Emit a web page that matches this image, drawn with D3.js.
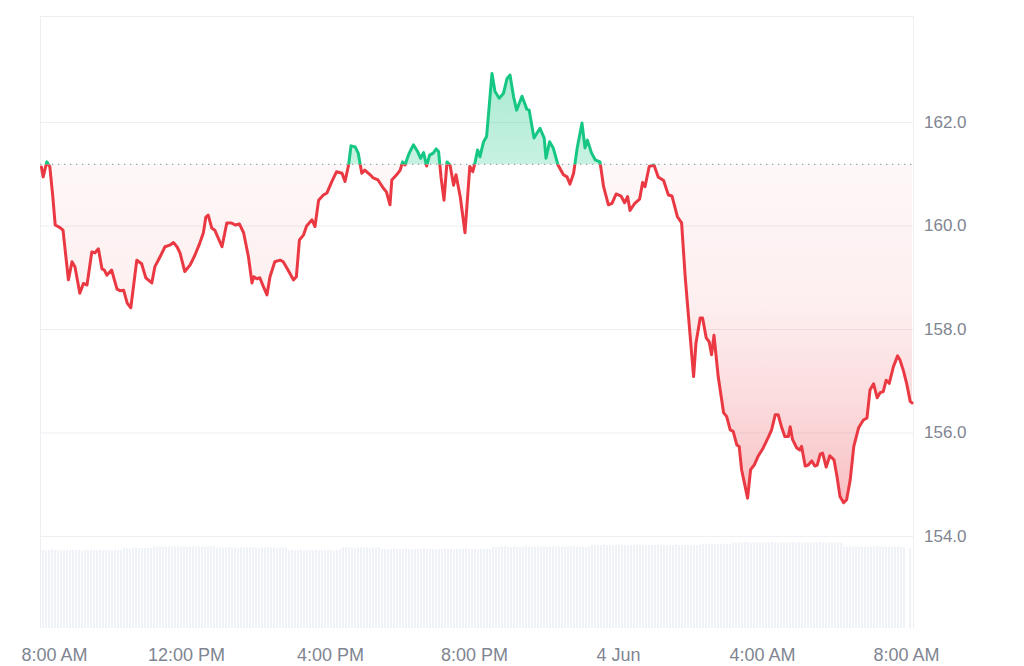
<!DOCTYPE html>
<html>
<head>
<meta charset="utf-8">
<script src="https://cdn.jsdelivr.net/npm/d3@7"></script>
<style>
  html, body { margin: 0; padding: 0; background: #fff; }
  svg { display: block; }
  text { font-family: "Liberation Sans", Arial, sans-serif; }
</style>
</head>
<body>
<svg id="chart" width="1024" height="666"></svg>
<script>
// ---------- DATA ----------
// minutes after 3 Jun 08:00
const priceMinutes = [-1,2,8,13,18,22,30,35,44,50,55,63,69,75,83,88,94,100,104,108,116,125,130,136,142,148,158,166,173,183,188,197,205,213,219,225,230,238,247,255,263,269,273,277,283,288,300,308,316,322,329,336,344,350,353,358,363,369,375,380,388,397,402,410,419,424,429,436,441,450,455,461,469,475,483,491,500,505,511,515,522,527,533,538,547,552,560,569,574,580,583,591,597,601,605,612,619,626,631,636,641,646,652,657,661,665,670,675,680,686,690,697,705,713,718,722,726,730,736,741,750,755,762,769,775,780,786,791,800,808,812,820,830,837,840,846,852,860,869,875,880,886,892,900,905,909,916,922,930,936,944,950,957,965,971,976,980,988,996,1001,1005,1012,1020,1027,1036,1044,1050,1059,1066,1072,1077,1086,1090,1097,1101,1107,1112,1116,1120,1127,1136,1141,1147,1152,1158,1162,1166,1176,1181,1187,1194,1202,1211,1216,1222,1227,1233,1238,1244,1247,1251,1258,1263,1266,1272,1277,1283,1288,1292,1297,1301,1307,1313,1320,1325,1330,1336,1341,1347,1353,1361,1369,1375,1380,1386,1392,1397,1402,1407,1412,1419,1426,1430,1436,1441,1447,1450];
const prices = [161.13,160.94,161.23,161.14,160.56,160.01,159.96,159.91,158.95,159.30,159.20,158.69,158.88,158.85,159.49,159.47,159.55,159.16,159.14,159.04,159.14,158.77,158.74,158.75,158.50,158.41,159.33,159.26,158.99,158.89,159.20,159.40,159.59,159.62,159.67,159.59,159.47,159.11,159.24,159.43,159.66,159.86,160.16,160.20,159.95,159.91,159.59,160.05,160.05,160.01,160.03,159.86,159.40,158.89,159.01,158.97,158.99,158.82,158.66,159.01,159.30,159.33,159.30,159.14,158.95,159.01,159.72,159.82,159.99,160.11,159.98,160.49,160.59,160.63,160.85,161.04,161.01,160.85,161.17,161.54,161.52,161.40,161.01,161.07,160.98,160.92,160.88,160.72,160.65,160.40,160.88,160.98,161.07,161.23,161.17,161.40,161.56,161.43,161.30,161.41,161.15,161.36,161.40,161.48,161.43,160.94,160.49,161.23,161.17,160.78,160.98,160.56,159.86,161.14,161.04,161.23,161.46,161.33,161.62,161.72,162.94,162.59,162.46,162.55,162.84,162.91,162.49,162.23,162.50,162.25,162.23,161.69,161.88,161.69,161.30,161.62,161.50,161.17,160.98,160.94,160.80,161.01,161.50,161.98,161.50,161.65,161.40,161.27,161.23,160.75,160.40,160.43,160.61,160.57,160.44,160.56,160.29,160.43,160.51,160.83,160.75,161.14,161.17,160.94,160.87,160.59,160.57,160.17,160.05,159.01,158.31,157.08,157.73,158.21,158.21,157.83,157.75,157.50,157.88,157.08,156.38,156.31,156.05,156.02,155.76,155.73,155.28,154.73,155.28,155.37,155.55,155.70,155.92,156.05,156.34,156.34,156.09,155.92,155.92,156.11,155.86,155.70,155.66,155.73,155.35,155.37,155.45,155.35,155.37,155.58,155.60,155.33,155.55,155.47,155.15,154.76,154.64,154.70,155.08,155.73,156.09,156.24,156.28,156.82,156.94,156.67,156.77,156.79,157.01,156.95,157.27,157.48,157.40,157.18,156.95,156.60,156.57];
const basePrice = 161.18;

// 5-minute volume bars starting 3 Jun 07:55 (arbitrary units)
const volumeStartMinute = -5;
const volumeStepMinutes = 5;
const volumes = [
  78,78,77.5,78,78.5,78,78,77.5,78,78,78.5,78,78,78,77.5,78,78,78.5,78,78,78,77.5,78,78,
  78,78.5,78,78,80,80,79.5,80,80.5,80,80,79.5,80,80,81.5,81.5,82,81.5,81,81.5,81.5,82,81.5,81.5,
  81.5,81,81.5,82,81.5,81.5,81,81.5,81.5,82,81.5,80.5,80.5,80,80.5,81,80.5,80.5,80,80.5,80.5,81,80.5,80.5,
  80.5,80,80.5,80.5,81,80.5,80.5,80,80.5,80.5,80.5,78,78,77.5,78,78.5,78,78,78,77.5,78,78,78.5,78,
  78,78,77.5,78,78,80.5,81,80.5,80.5,80,80.5,81,80.5,80.5,80,80.5,80.5,81,79,79,78.5,79,79.5,79,
  79,79,79.5,79,78.5,79,79,79,79.5,79,79,78.5,79,79,79,79.5,79,79,78.5,79,79,79,79.5,79,
  79,79,78.5,79,79,79.5,79,81.5,81,81.5,81.5,82,81.5,81,81.5,81.5,81,81.5,82,81.5,81.5,81,81.5,81.5,
  81.5,81,81.5,82,81.5,81.5,81,81.5,81.5,82,81.5,81,81.5,81.5,81,81.5,83,83,82.5,83,83.5,83,83,82.5,
  83,83.5,83,83,82.5,83,83,83.5,83,83,82.5,83,83,83,83.5,83,83,82.5,83,83,83.5,83,83,83,
  83,82.5,83,83,83.5,84,84,84.5,84,83.5,84,84,84.5,84,84,85.5,85,85.5,85.5,86,85.5,85,85.5,85.5,
  85.5,85,85.5,85.5,86,85.5,85,85.5,85.5,85,85.5,86,85.5,85.5,85,85.5,85.5,85,85.5,85.5,86,85.5,85,85.5,
  85.5,85,85.5,85,81.5,81,81.5,81.5,82,81.5,81,81.5,81.5,81,81.5,82,81.5,81.5,81,81.5,81.5,81,81.5,81,
  81,null,80
];

const yTicks = [154, 156, 158, 160, 162];
// tick times: hours after 3 Jun 08:00
const xTickHours = [0, 4, 8, 12, 16, 20, 24];

// ---------- SETUP ----------
const W = 1024, H = 666;
const L = 40, R = 913, T = 16, B = 628;
const volTopPx = 542;
const t0 = new Date(2024, 5, 3, 8, 0, 0);
const addMin = m => new Date(t0.getTime() + m * 60000);

const priceData = d3.range(Math.min(priceMinutes.length, prices.length))
  .map(i => ({ t: addMin(priceMinutes[i]), v: prices[i] }));
const volData = volumes.map((v, i) => ({ t: addMin(volumeStartMinute + i * volumeStepMinutes), v }))
  .filter(d => d.v != null);

const x = d3.scaleTime().domain([addMin(-3.333), addMin(1451.67)]).range([L, R]);
const y = d3.scaleLinear().domain([152.22, 164.05]).range([B, T]);
const vy = d3.scaleLinear().domain([0, 86]).range([B, volTopPx]);

const svg = d3.select("#chart");
const defs = svg.append("defs");

const yBase = y(basePrice);
defs.append("clipPath").attr("id", "plotClip").append("rect")
  .attr("x", L).attr("y", T).attr("width", R - L).attr("height", B - T);
defs.append("clipPath").attr("id", "aboveClip").append("rect")
  .attr("x", L - 5).attr("y", 0).attr("width", R - L + 10).attr("height", yBase);
defs.append("clipPath").attr("id", "belowClip").append("rect")
  .attr("x", L - 5).attr("y", yBase).attr("width", R - L + 10).attr("height", H - yBase);

const maxP = d3.max(prices), minP = d3.min(prices);
const gG = defs.append("linearGradient").attr("id", "gGreen")
  .attr("gradientUnits", "userSpaceOnUse").attr("x1", 0).attr("x2", 0)
  .attr("y1", y(maxP)).attr("y2", yBase);
gG.append("stop").attr("offset", 0).attr("stop-color", "#16c784").attr("stop-opacity", 0.36);
gG.append("stop").attr("offset", 1).attr("stop-color", "#16c784").attr("stop-opacity", 0.24);

const gR = defs.append("linearGradient").attr("id", "gRed")
  .attr("gradientUnits", "userSpaceOnUse").attr("x1", 0).attr("x2", 0)
  .attr("y1", yBase).attr("y2", y(minP));
gR.append("stop").attr("offset", 0).attr("stop-color", "#ea3943").attr("stop-opacity", 0.04);
gR.append("stop").attr("offset", 0.4).attr("stop-color", "#ea3943").attr("stop-opacity", 0.08);
gR.append("stop").attr("offset", 0.7).attr("stop-color", "#ea3943").attr("stop-opacity", 0.18);
gR.append("stop").attr("offset", 1).attr("stop-color", "#ea3943").attr("stop-opacity", 0.32);

// ---------- VOLUME ----------
const stepPx = x(addMin(volumeStepMinutes)) - x(addMin(0));
svg.append("g").attr("clip-path", "url(#plotClip)")
  .selectAll("rect").data(volData).join("rect")
  .attr("x", d => x(d.t))
  .attr("width", stepPx - 0.9)
  .attr("y", d => vy(d.v))
  .attr("height", d => B - vy(d.v))
  .attr("fill", "#eff2f6");

// ---------- GRID / Y AXIS ----------
const yAxis = svg.append("g").attr("transform", `translate(${R},0)`)
  .call(d3.axisRight(y).tickValues(yTicks).tickSize(-(R - L)).tickPadding(11)
    .tickFormat(d3.format(".1f")));
yAxis.select(".domain").remove();
yAxis.selectAll(".tick line").attr("stroke", "#eceef2").attr("stroke-width", 1);
yAxis.selectAll(".tick text").attr("fill", "#7f8591").style("font-size", "17px")
  .style("font-family", '"Liberation Sans", Arial, sans-serif');

// frame (top, left, right)
const frame = svg.append("g").attr("stroke", "#eceef2").attr("stroke-width", 1).attr("fill", "none");
frame.append("line").attr("x1", L).attr("x2", R).attr("y1", T + 0.5).attr("y2", T + 0.5);
frame.append("line").attr("x1", L + 0.5).attr("x2", L + 0.5).attr("y1", T).attr("y2", B);
frame.append("line").attr("x1", R + 0.5).attr("x2", R + 0.5).attr("y1", T).attr("y2", B);

// ---------- AREAS ----------
const area = d3.area().x(d => x(d.t)).y0(yBase).y1(d => y(d.v));
const line = d3.line().x(d => x(d.t)).y(d => y(d.v));

svg.append("path").datum(priceData).attr("d", area)
  .attr("fill", "url(#gGreen)").attr("clip-path", "url(#aboveClip)");
svg.append("path").datum(priceData).attr("d", area)
  .attr("fill", "url(#gRed)").attr("clip-path", "url(#belowClip)");

// baseline dotted
svg.append("line").attr("x1", L).attr("x2", R).attr("y1", yBase).attr("y2", yBase)
  .attr("stroke", "#9aa0aa").attr("stroke-width", 1.3).attr("stroke-dasharray", "1.3 4.7");

// lines
svg.append("path").datum(priceData).attr("d", line)
  .attr("fill", "none").attr("stroke", "#16c784").attr("stroke-width", 3)
  .attr("stroke-linejoin", "round").attr("stroke-linecap", "round")
  .attr("clip-path", "url(#aboveClip)");
svg.append("path").datum(priceData).attr("d", line)
  .attr("fill", "none").attr("stroke", "#ea3943").attr("stroke-width", 3)
  .attr("stroke-linejoin", "round").attr("stroke-linecap", "round")
  .attr("clip-path", "url(#belowClip)");

// ---------- X AXIS ----------
const fmtTime = d3.timeFormat("%-I:%M %p");
const fmtDay = d3.timeFormat("%-d %b");
const xAxis = svg.append("g").attr("transform", `translate(0,${B})`)
  .call(d3.axisBottom(x).tickValues(xTickHours.map(h => addMin(h * 60)))
    .tickSize(0).tickPadding(20)
    .tickFormat(d => (d.getHours() === 0 && d.getMinutes() === 0) ? fmtDay(d) : fmtTime(d)));
xAxis.select(".domain").remove();
xAxis.selectAll(".tick text").attr("fill", "#7f8591").style("font-size", "18px")
  .style("font-family", '"Liberation Sans", Arial, sans-serif');
xAxis.select(".tick:first-of-type text").attr("dx", "0.67em");
</script>
</body>
</html>
